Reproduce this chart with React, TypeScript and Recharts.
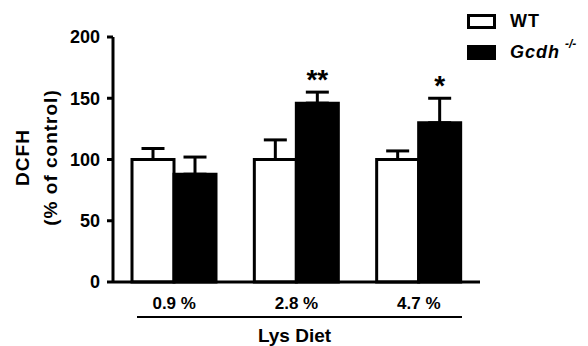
import { BarChart, Bar, XAxis, YAxis, ErrorBar, LabelList, Legend } from 'recharts';

const categories = ['0.9 %', '2.8 %', '4.7 %'];
const wtMean = [100, 100, 100];
const wtSem = [9, 16, 7];
const gcdhMean = [88, 146, 130];
const gcdhSem = [14, 9, 20];
const stars = ['', '**', '*'];
const yTicks = [0, 50, 100, 150, 200];

const data = categories.map((cat, i) => ({
  cat,
  wt: wtMean[i],
  wtErr: [0, wtSem[i]],
  gcdh: gcdhMean[i],
  gcdhErr: [0, gcdhSem[i]],
  star: stars[i],
}));

const FONT = '"Liberation Sans", Arial, Helvetica, sans-serif';

const CategoryTick = ({ x, y, payload }: any) => (
  <text x={x} y={y} dy={19} textAnchor="middle" fontSize={17} fontWeight="bold" fill="#000">
    {payload.value}
  </text>
);

const YTitle = ({ viewBox }: any) => {
  const cy = viewBox.y + viewBox.height / 2 - 2;
  return (
    <g fontSize={19} fontWeight="bold" fill="#000" letterSpacing={1}>
      <text x={29} y={cy} textAnchor="middle" transform={`rotate(-90 29 ${cy})`}>DCFH</text>
      <text x={57} y={cy} textAnchor="middle" transform={`rotate(-90 57 ${cy})`}>(% of control)</text>
    </g>
  );
};

const XTitle = ({ viewBox }: any) => {
  const { x, y, width } = viewBox;
  return (
    <g>
      <line x1={x + 24} x2={x + width - 18} y1={y + 35} y2={y + 35} stroke="#000" strokeWidth={2} />
      <text x={x + width / 2 - 2} y={y + 60} textAnchor="middle" fontSize={19} fontWeight="bold" fill="#000">
        Lys Diet
      </text>
    </g>
  );
};

const StarLabel = (props: any) => {
  const { x, y, width, height, index, value } = props;
  if (!value) return null;
  const ppu = height / gcdhMean[index];
  const top = y - gcdhSem[index] * ppu;
  return (
    <text x={x + width / 2} y={top - 3} textAnchor="middle" fontSize={28} fontWeight="bold" fill="#000">
      {value}
    </text>
  );
};

const LegendBox = () => (
  <div style={{ fontFamily: FONT, fontWeight: 'bold', fontSize: 18, color: '#000', lineHeight: 1 }}>
    <div style={{ display: 'flex', alignItems: 'center', height: 16 }}>
      <div style={{ width: 23, height: 9, border: '3px solid #000', background: '#fff' }} />
      <span style={{ marginLeft: 14, letterSpacing: 1 }}>WT</span>
    </div>
    <div style={{ display: 'flex', alignItems: 'center', height: 16, marginTop: 15 }}>
      <div style={{ width: 29, height: 15, background: '#000' }} />
      <span style={{ marginLeft: 14, fontStyle: 'italic', letterSpacing: 1 }}>Gcdh</span>
      <span style={{ fontStyle: 'italic', fontSize: 12, marginLeft: 5, position: 'relative', top: -8 }}>-/-</span>
    </div>
  </div>
);

export default function App() {
  return (
    <div style={{ position: 'absolute', left: 0, top: 0, width: 588, height: 346, background: '#fff', fontFamily: FONT }}>
      <BarChart width={588} height={346} data={data} margin={{ top: 37, right: 108, bottom: 0, left: 0 }} barGap={0} barSize={42}>
        <XAxis
          dataKey="cat"
          height={64}
          axisLine={{ stroke: '#000', strokeWidth: 3 }}
          tickLine={false}
          tick={<CategoryTick />}
          label={<XTitle />}
        />
        <YAxis
          width={113}
          domain={[0, 200]}
          ticks={yTicks}
          interval={0}
          axisLine={{ stroke: '#000', strokeWidth: 3 }}
          tickLine={{ stroke: '#000', strokeWidth: 3 }}
          tickSize={6}
          tickMargin={7}
          tick={{ fontSize: 18, fontWeight: 'bold', fill: '#000' }}
          label={<YTitle />}
        />
        <Legend
          layout="vertical"
          align="center"
          verticalAlign="middle"
          content={<LegendBox />}
          wrapperStyle={{ position: 'absolute', left: 467, top: 13, width: 121, height: 60 }}
        />
        <Bar dataKey="wt" name="WT" fill="#fff" stroke="#000" strokeWidth={3} isAnimationActive={false}>
          <ErrorBar dataKey="wtErr" width={11.5} stroke="#000" strokeWidth={3} direction="y" />
        </Bar>
        <Bar dataKey="gcdh" name="Gcdh -/-" fill="#000" stroke="#000" strokeWidth={3} isAnimationActive={false}>
          <ErrorBar dataKey="gcdhErr" width={11.5} stroke="#000" strokeWidth={3} direction="y" />
          <LabelList dataKey="star" content={<StarLabel />} />
        </Bar>
      </BarChart>
    </div>
  );
}
